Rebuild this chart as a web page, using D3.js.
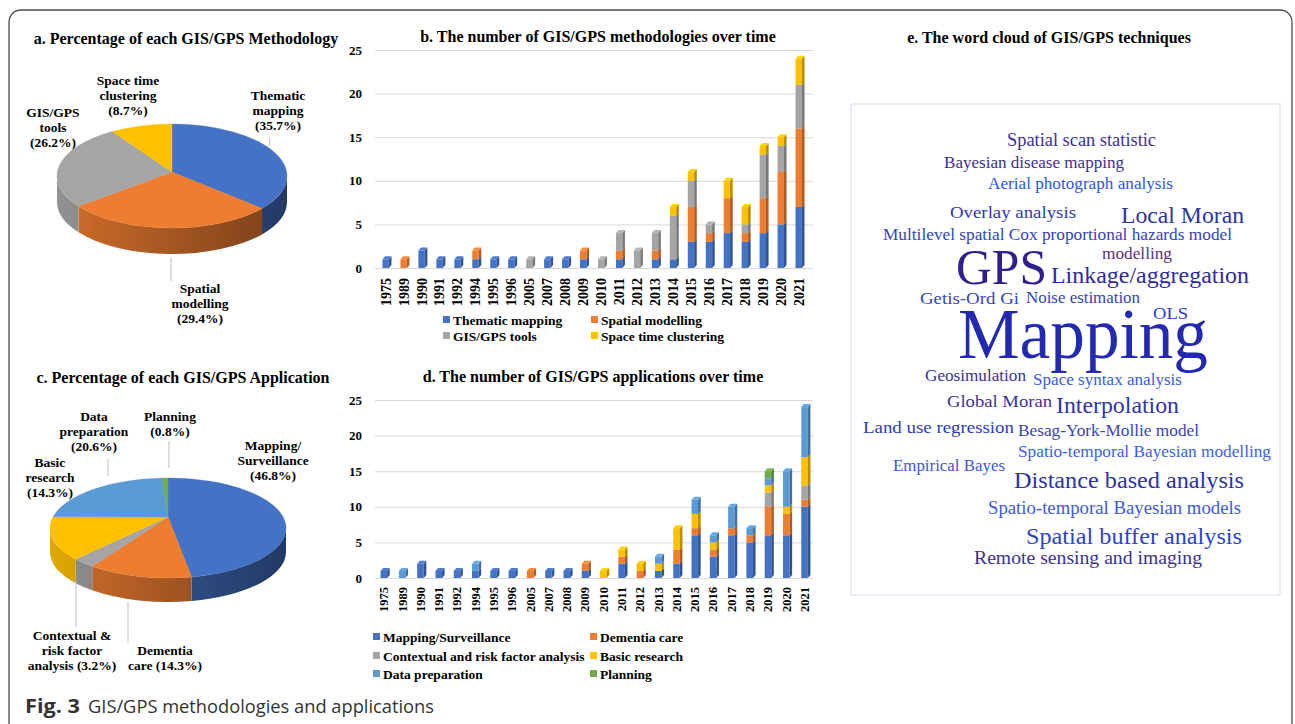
<!DOCTYPE html>
<html>
<head>
<meta charset="utf-8">
<script src="https://cdn.jsdelivr.net/npm/d3@7"></script>
<style>
  body { margin: 0; background: #fff; }
  svg { display: block; }
  text { font-family: "Liberation Serif", "Times New Roman", serif; }
  text.caption { font-family: "Open Sans", "Noto Sans", sans-serif; }
</style>
</head>
<body>
<svg id="fig" width="1295" height="724"></svg>
<script>
// ---- data ----
const years = ["1975", "1989", "1990", "1991", "1992", "1994", "1995", "1996", "2005", "2007", "2008", "2009",
  "2010", "2011", "2012", "2013", "2014", "2015", "2016", "2017", "2018", "2019", "2020", "2021"];

const methodNames = ["Thematic mapping", "Spatial modelling", "GIS/GPS tools", "Space time clustering"];
const thematicMapping = [1, 0, 2, 1, 1, 1, 1, 1, 0, 1, 1, 1, 0, 1, 0, 1, 1, 3, 3, 4, 3, 4, 5, 7];
const spatialModelling = [0, 1, 0, 0, 0, 1, 0, 0, 0, 0, 0, 1, 0, 1, 0, 1, 0, 4, 1, 4, 1, 4, 6, 9];
const gisTools = [0, 0, 0, 0, 0, 0, 0, 0, 1, 0, 0, 0, 1, 2, 2, 2, 5, 3, 1, 0, 1, 5, 3, 5];
const spaceTime = [0, 0, 0, 0, 0, 0, 0, 0, 0, 0, 0, 0, 0, 0, 0, 0, 1, 1, 0, 2, 2, 1, 1, 3];

const appNames = ["Mapping/Surveillance", "Dementia care", "Contextual and risk factor analysis",
  "Basic research", "Data preparation", "Planning"];
const mappingSurv = [1, 0, 2, 1, 1, 1, 1, 1, 0, 1, 1, 1, 0, 2, 0, 1, 2, 6, 3, 6, 5, 6, 6, 10];
const dementiaCare = [0, 0, 0, 0, 0, 0, 0, 0, 1, 0, 0, 1, 0, 1, 1, 0, 2, 1, 1, 1, 1, 4, 3, 1];
const contextual = [0, 0, 0, 0, 0, 0, 0, 0, 0, 0, 0, 0, 0, 0, 0, 0, 0, 0, 0, 0, 0, 2, 0, 2];
const basicResearch = [0, 0, 0, 0, 0, 0, 0, 0, 0, 0, 0, 0, 1, 1, 1, 1, 3, 2, 1, 0, 0, 1, 1, 4];
const dataPrep = [0, 1, 0, 0, 0, 1, 0, 0, 0, 0, 0, 0, 0, 0, 0, 1, 0, 2, 1, 3, 1, 1, 5, 7];
const planning = [0, 0, 0, 0, 0, 0, 0, 0, 0, 0, 0, 0, 0, 0, 0, 0, 0, 0, 0, 0, 0, 1, 0, 0];

const yTicks = [0, 5, 10, 15, 20, 25];

const methodShare = [35.7, 29.4, 26.2, 8.7];
const methodLabels = [["Thematic", "mapping", "(35.7%)"], ["Spatial", "modelling", "(29.4%)"],
  ["GIS/GPS", "tools", "(26.2%)"], ["Space time", "clustering", "(8.7%)"]];
const appShare = [46.8, 14.3, 3.2, 14.3, 20.6, 0.8];
const appLabels = [["Mapping/", "Surveillance", "(46.8%)"], ["Dementia", "care (14.3%)"],
  ["Contextual &", "risk factor", "analysis (3.2%)"], ["Basic", "research", "(14.3%)"],
  ["Data", "preparation", "(20.6%)"], ["Planning", "(0.8%)"]];

const cloudWords = ["Spatial scan statistic", "Bayesian disease mapping", "Aerial photograph analysis",
  "Overlay analysis", "Local Moran", "Multilevel spatial Cox proportional hazards model", "modelling",
  "GPS", "Linkage/aggregation", "Getis-Ord Gi", "Noise estimation", "OLS", "Mapping", "Geosimulation",
  "Space syntax analysis", "Global Moran", "Interpolation", "Land use regression", "Besag-York-Mollie model",
  "Spatio-temporal Bayesian modelling", "Empirical Bayes", "Distance based analysis",
  "Spatio-temporal Bayesian models", "Spatial buffer analysis", "Remote sensing and imaging"];
const cloudWeights = [2, 1, 1, 1, 4, 1, 1, 15, 4, 1, 1, 1, 23, 1, 1, 1, 4, 1, 1, 1, 1, 4, 2, 4, 2];

// ---- layout / style ----
const palette = ["#4472C4", "#ED7D31", "#A5A5A5", "#FFC000", "#5B9BD5", "#70AD47"];
// word cloud placement: [left, right, baseline]
const cloudPlace = [[1007, 1156, 146], [944, 1124, 168], [988, 1173, 189], [950, 1076, 218],
  [1121, 1244, 223], [883, 1232, 240], [1102, 1172, 259], [956, 1047, 284], [1051, 1249, 283],
  [920, 1019, 304], [1026, 1140, 303], [1153, 1188, 319], [958, 1208, 358], [925, 1026, 381],
  [1033, 1182, 385], [947, 1052, 407], [1056, 1179, 413], [863, 1014, 433], [1018, 1199, 436],
  [1018, 1271, 457], [893, 1005, 471], [1014, 1244, 488], [988, 1241, 514], [1026, 1242, 544],
  [974, 1202, 564]];
const cloudColors = ["#3b2f9a", "#3d2f8f", "#2f55e0", "#2d3aab", "#2b34a8", "#3443b8", "#5b2f80",
  "#2d1f8e", "#2e2a9c", "#3344c0", "#3542b5", "#2a3ec8", "#2229b3", "#3d2f94", "#3a5ae0", "#3c3294",
  "#2e35aa", "#2e3cb8", "#3a44b4", "#3c60e8", "#3c56d6", "#2d32a6", "#3a5ae0", "#2c44cc", "#3d3094"];

const svg = d3.select("#fig");
const defs = svg.append("defs");

// outer frame
svg.append("rect")
  .attr("x", 9).attr("y", 10).attr("width", 1283).attr("height", 730).attr("rx", 12)
  .attr("fill", "none").attr("stroke", "#4a4a4a").attr("stroke-width", 1.3);

const title = (x, y, t) => svg.append("text")
  .attr("x", x).attr("y", y).attr("text-anchor", "middle")
  .attr("font-weight", "bold").attr("font-size", 16).text(t);

title(186, 44, "a. Percentage of each GIS/GPS Methodology");
title(598, 42, "b. The number of GIS/GPS methodologies over time");
title(183, 383, "c. Percentage of each GIS/GPS Application");
title(593, 382, "d. The number of GIS/GPS applications over time");
title(1049, 43, "e. The word cloud of GIS/GPS techniques");

// ---- stacked 3D bars ----
function stackedBars(o) {
  const rows = years.map((yr, i) => {
    const r = { year: yr };
    o.series.forEach((s, k) => r["s" + k] = s[i]);
    return r;
  });
  const keys = o.series.map((s, k) => "s" + k);
  const stacked = d3.stack().keys(keys)(rows);
  const totals = rows.map(r => d3.sum(keys, k => r[k]));

  const x = d3.scaleBand().domain(years).range(o.xRange).paddingInner(0.5).paddingOuter(0.25);
  const y = d3.scaleLinear().domain([0, 25]).range(o.yRange);
  const g = svg.append("g");

  const yAxis = d3.axisLeft(y).tickValues(yTicks).tickSize(-(o.gridX[1] - o.gridX[0])).tickPadding(13);
  const ya = g.append("g").attr("transform", `translate(${o.gridX[0]},0)`).call(yAxis);
  ya.select(".domain").remove();
  ya.selectAll("line").attr("stroke", "#d9d9d9").attr("stroke-width", 1);
  ya.selectAll("text").attr("font-weight", "bold").attr("font-size", 13).attr("fill", "#000");

  const dx = 2.6, dy = 3;
  const fw = x.bandwidth() - dx;
  stacked.forEach((layer, k) => {
    const c = d3.color(palette[o.colorIdx[k]]);
    const side = c.darker(0.9).formatHex();
    const top = c.brighter(0.25).formatHex();
    layer.forEach((d, i) => {
      if (d[1] <= d[0]) return;
      const x0 = x(years[i]);
      const yt = y(d[1]), yb = y(d[0]);
      g.append("rect").attr("x", x0).attr("y", yt).attr("width", fw).attr("height", yb - yt)
        .attr("fill", c.formatHex());
      g.append("path")
        .attr("d", `M${x0 + fw},${yt}L${x0 + fw + dx},${yt - dy}L${x0 + fw + dx},${yb - dy}L${x0 + fw},${yb}Z`)
        .attr("fill", side);
      if (d[1] === totals[i]) {
        g.append("path")
          .attr("d", `M${x0},${yt}L${x0 + dx},${yt - dy}L${x0 + fw + dx},${yt - dy}L${x0 + fw},${yt}Z`)
          .attr("fill", top);
      }
    });
  });

  const xa = g.append("g").attr("transform", `translate(${-dx / 2},${o.yRange[0]})`)
    .call(d3.axisBottom(x).tickSize(0));
  xa.select(".domain").remove();
  xa.selectAll("text")
    .attr("transform", "rotate(-90)")
    .attr("text-anchor", "end")
    .attr("x", -o.labelGap).attr("y", 0).attr("dy", "0.35em")
    .attr("font-weight", "bold")
    .attr("font-size", o.labelSize).attr("fill", "#000");

  // legend
  o.names.forEach((n, k) => {
    const [lx, ly] = o.legendPos[k];
    g.append("rect").attr("x", lx).attr("y", ly - 4).attr("width", 7).attr("height", 7)
      .attr("fill", palette[o.colorIdx[k]]);
    g.append("text").attr("x", lx + 10).attr("y", ly + 4.5)
      .attr("font-weight", "bold").attr("font-size", 13.5).text(n);
  });
}

stackedBars({
  series: [thematicMapping, spatialModelling, gisTools, spaceTime],
  names: methodNames, colorIdx: [0, 1, 2, 3],
  xRange: [378, 809], yRange: [268, 50], gridX: [375, 813],
  labelSize: 14, labelGap: 10,
  legendPos: [[443, 320], [591, 320], [443, 336], [591, 336]]
});

stackedBars({
  series: [mappingSurv, dementiaCare, contextual, basicResearch, dataPrep, planning],
  names: appNames, colorIdx: [0, 1, 2, 3, 4, 5],
  xRange: [376, 815], yRange: [578, 400], gridX: [375, 813],
  labelSize: 12.5, labelGap: 9,
  legendPos: [[373, 637], [590, 637], [373, 656], [590, 656], [373, 674], [590, 674]]
});

// ---- 3D pies ----
function pie3d(o) {
  const arcs = d3.pie().sort(null).value(d => d)(o.values);
  const { cx, cy, rx, ry, depth } = o;
  const pt = (a, off = 0) => [cx + rx * Math.sin(a), cy - ry * Math.cos(a) + off];
  const g = svg.append("g");

  arcs.forEach((a, i) => {
    const c = d3.color(palette[o.colorIdx[i]]);
    const gid = o.id + "g" + i;
    const lg = defs.append("linearGradient").attr("id", gid)
      .attr("gradientUnits", "userSpaceOnUse")
      .attr("x1", cx - rx).attr("x2", cx + rx).attr("y1", 0).attr("y2", 0);
    lg.append("stop").attr("offset", "0%").attr("stop-color", c.darker(0.35).formatHex());
    lg.append("stop").attr("offset", "100%").attr("stop-color", c.darker(1.9).formatHex());

    const s0 = Math.max(a.startAngle, Math.PI / 2), s1 = Math.min(a.endAngle, 3 * Math.PI / 2);
    if (s1 > s0) {
      const p0 = pt(s0), p1 = pt(s1), q0 = pt(s0, depth), q1 = pt(s1, depth);
      g.append("path")
        .attr("d", `M${p0}A${rx},${ry} 0 0 1 ${p1}L${q1}A${rx},${ry} 0 0 0 ${q0}Z`)
        .attr("fill", `url(#${gid})`);
    }
  });

  const vx = cx, vy = cy + o.vdy;
  arcs.forEach((a, i) => {
    const p0 = pt(a.startAngle), p1 = pt(a.endAngle);
    const large = a.endAngle - a.startAngle > Math.PI ? 1 : 0;
    g.append("path")
      .attr("d", `M${vx},${vy}L${p0}A${rx},${ry} 0 ${large} 1 ${p1}Z`)
      .attr("fill", palette[o.colorIdx[i]])
      .attr("stroke", palette[o.colorIdx[i]]).attr("stroke-width", 0.4);
  });

  o.labels.forEach((lines, i) => {
    const [lx, ly] = o.labelPos[i];
    const t = g.append("text").attr("text-anchor", "middle")
      .attr("font-weight", "bold").attr("font-size", 13.5);
    lines.forEach((ln, j) => t.append("tspan").attr("x", lx).attr("y", ly + j * 15).text(ln));
  });
  o.leaders.forEach(([x1, y1, x2, y2]) => g.append("line")
    .attr("x1", x1).attr("y1", y1).attr("x2", x2).attr("y2", y2)
    .attr("stroke", "#bfbfbf").attr("stroke-width", 1));
}

pie3d({
  id: "pa", values: methodShare, colorIdx: [0, 1, 2, 3], labels: methodLabels,
  cx: 172, cy: 176, rx: 115, ry: 52, depth: 26, vdy: -4,
  labelPos: [[278, 100], [200, 293], [53, 117], [128, 85]],
  leaders: [[171, 258, 171, 281], [270, 138, 269, 146]]
});

pie3d({
  id: "pc", values: appShare, colorIdx: [0, 1, 2, 3, 4, 5], labels: appLabels,
  cx: 168, cy: 528, rx: 118, ry: 50, depth: 24, vdy: -11,
  labelPos: [[273, 450], [165, 655], [72, 640], [50, 467], [94, 421], [170, 421]],
  leaders: [[169, 441, 169, 468], [108, 459, 108, 476], [76, 581, 76, 627], [128, 602, 128, 643]]
});

// ---- word cloud ----
svg.append("rect").attr("x", 851).attr("y", 104).attr("width", 429).attr("height", 491)
  .attr("fill", "none").attr("stroke", "#e4e9f3").attr("stroke-width", 1.5);

const fontScale = d3.scaleLinear().domain([1, 24]).range([16.5, 74]);
svg.append("g").selectAll("text").data(cloudWords).join("text")
  .attr("x", (d, i) => cloudPlace[i][0])
  .attr("y", (d, i) => cloudPlace[i][2])
  .attr("font-size", (d, i) => fontScale(cloudWeights[i]))
  .attr("textLength", (d, i) => cloudPlace[i][1] - cloudPlace[i][0])
  .attr("lengthAdjust", "spacingAndGlyphs")
  .attr("fill", (d, i) => cloudColors[i])
  .text(d => d);

// ---- caption ----
svg.append("text").attr("class", "caption").attr("x", 25).attr("y", 713)
  .attr("font-size", 19).attr("font-weight", "bold").attr("fill", "#333")
  .attr("textLength", 55).attr("lengthAdjust", "spacingAndGlyphs").text("Fig. 3");
svg.append("text").attr("class", "caption").attr("x", 88).attr("y", 713)
  .attr("font-size", 18).attr("fill", "#333")
  .attr("textLength", 346).attr("lengthAdjust", "spacingAndGlyphs")
  .text("GIS/GPS methodologies and applications");
</script>
</body>
</html>
